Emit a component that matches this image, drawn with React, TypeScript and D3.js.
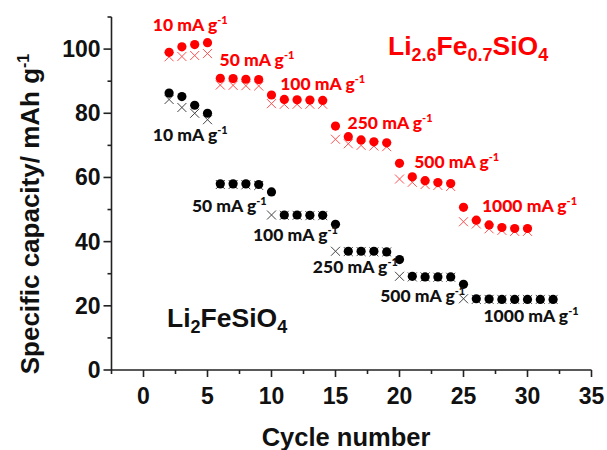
import React from "react";
import * as d3 from "d3";

// Li2FeSiO4 (black)
const baseCycles = [2, 3, 4, 5, 6, 7, 8, 9, 10, 11, 12, 13, 14, 15, 16, 17, 18, 19, 20, 21, 22, 23, 24, 25, 26, 27, 28, 29, 30, 31, 32];
const baseCircle = [86.3, 85.2, 82.5, 80, 58, 58, 58, 57.8, 55.5, 48.3, 48.3, 48.2, 48.2, 45.4, 37, 37, 37, 36.8, 34.4, 29.2, 29, 29, 29, 26.7, 22.2, 22.1, 22, 22, 22, 22, 22];
const baseCross = [84.3, 81.8, 80, 78, 57.8, 57.8, 57.7, 57.5, 48.3, 48.2, 48.2, 48.1, 48.1, 37, 36.9, 36.9, 36.8, 36.8, 29.2, 29, 29, 28.9, 28.9, 22.2, 22, 22, 22, 22, 22, 22, 22];

// Li2.6Fe0.7SiO4 (red)
const dopedCycles = [2, 3, 4, 5, 6, 7, 8, 9, 10, 11, 12, 13, 14, 15, 16, 17, 18, 19, 20, 21, 22, 23, 24, 25, 26, 27, 28, 29, 30];
const dopedCircle = [99, 100.7, 101.4, 102, 90.9, 90.8, 90.6, 90.5, 85.7, 84.3, 84.2, 84.1, 84, 76, 72.7, 71.7, 71.1, 70.8, 64.4, 60.2, 59, 58.4, 58.1, 50.7, 46.7, 45.2, 44.4, 44.1, 44.1];
const dopedCross = [97.6, 97.7, 98, 98.6, 88.8, 88.7, 88.6, 88.5, 83, 82.8, 82.8, 82.8, 82.8, 71.9, 70.5, 70, 69.8, 69.6, 59.5, 58.5, 57.8, 57.5, 57.2, 46.2, 45.5, 44, 43.5, 43.2, 43.2];

const rates = ["10", "50", "100", "250", "500", "1000"];
// label anchors in data units (cycle, capacity)
const dopedLabelAt: [number, number][] = [[0.73, 105.5], [5.94, 94.8], [10.68, 87.2], [15.94, 75.0], [21.15, 63.0], [26.44, 49.3]];
const baseLabelAt: [number, number][] = [[0.73, 71.3], [3.78, 49.1], [8.55, 40.3], [13.23, 30.1], [18.49, 21.3], [26.56, 14.9]];

const xTicks = [0, 5, 10, 15, 20, 25, 30, 35];
const yTicks = [0, 20, 40, 60, 80, 100];

const W = 607;
const H = 450;

const x = d3.scaleLinear().domain([-2.5, 35]).range([111.5, 591.5]);
const y = d3.scaleLinear().domain([0, 110]).range([370, 17]);

const RED = "#ff0000";
const axisFont = "'Liberation Sans', Arial, sans-serif";
const labelFont = "Lato, 'Open Sans', sans-serif";

const Cross = ({ cx, cy, color }: { cx: number; cy: number; color: string }) => {
  const s = 4.5;
  return (
    <path
      d={`M${cx - s},${cy - s}L${cx + s},${cy + s}M${cx - s},${cy + s}L${cx + s},${cy - s}`}
      stroke={color}
      strokeWidth={1}
      fill="none"
    />
  );
};

const RateLabel = ({ px, py, rate, color }: { px: number; py: number; rate: string; color: string }) => (
  <text x={px} y={py} fill={color} fontFamily={labelFont} fontWeight={900} fontSize={17.5}>
    {rate} mA g
    <tspan dy={-7} fontSize={11}>-1</tspan>
  </text>
);

export default function App() {
  const minorX = d3.range(-2.5, 35.01, 2.5).filter((v) => !xTicks.includes(v));
  const minorY = d3.range(10, 111, 20);

  return (
    <svg width={W} height={H} style={{ position: "absolute", left: 0, top: 0, background: "#fff" }}>
      {/* axes */}
      <g stroke="#222" strokeWidth={1.6} fill="none">
        <line x1={x(-2.5)} x2={x(-2.5)} y1={y(110)} y2={y(0)} />
        <line x1={x(-2.5)} x2={x(35)} y1={y(0)} y2={y(0)} />
        {yTicks.map((t) => (
          <line key={"yt" + t} x1={x(-2.5) - 8} x2={x(-2.5)} y1={y(t)} y2={y(t)} />
        ))}
        {minorY.map((t) => (
          <line key={"ym" + t} x1={x(-2.5) - 4} x2={x(-2.5)} y1={y(t)} y2={y(t)} />
        ))}
        {xTicks.map((t) => (
          <line key={"xt" + t} x1={x(t)} x2={x(t)} y1={y(0)} y2={y(0) + 7} />
        ))}
        {minorX.map((t) => (
          <line key={"xm" + t} x1={x(t)} x2={x(t)} y1={y(0)} y2={y(0) + 4} />
        ))}
      </g>
      <g fontFamily={axisFont} fontWeight={700} fontSize={23} fill="#111">
        {yTicks.map((t) => (
          <text key={"yl" + t} x={x(-2.5) - 11} y={y(t) + 8} textAnchor="end">
            {t}
          </text>
        ))}
        {xTicks.map((t) => (
          <text key={"xl" + t} x={x(t)} y={y(0) + 34} textAnchor="middle">
            {t}
          </text>
        ))}
        <text x={346} y={446} textAnchor="middle" fontSize={25.5}>
          Cycle number
        </text>
        <text transform="translate(39,214) rotate(-90)" textAnchor="middle" fontSize={26}>
          Specific capacity/ mAh g
          <tspan dy={-10} fontSize={16}>-1</tspan>
        </text>
      </g>

      {/* markers */}
      {baseCycles.map((c, i) => (
        <Cross key={"bx" + c} cx={x(c)} cy={y(baseCross[i])} color="#444" />
      ))}
      {dopedCycles.map((c, i) => (
        <Cross key={"rx" + c} cx={x(c)} cy={y(dopedCross[i])} color="#ff5050" />
      ))}
      {baseCycles.map((c, i) => (
        <circle key={"bc" + c} cx={x(c)} cy={y(baseCircle[i])} r={4.6} fill="#000" />
      ))}
      {dopedCycles.map((c, i) => (
        <circle key={"rc" + c} cx={x(c)} cy={y(dopedCircle[i])} r={4.6} fill={RED} />
      ))}

      {/* rate labels */}
      {rates.map((r, i) => (
        <RateLabel key={"dl" + r} px={x(dopedLabelAt[i][0])} py={y(dopedLabelAt[i][1])} rate={r} color={RED} />
      ))}
      {rates.map((r, i) => (
        <RateLabel key={"bl" + r} px={x(baseLabelAt[i][0])} py={y(baseLabelAt[i][1])} rate={r} color="#111" />
      ))}

      {/* compound names */}
      <text x={167} y={327} fontFamily={axisFont} fontWeight={700} fontSize={26.5} fill="#111">
        Li<tspan dy={6} fontSize={18}>2</tspan>
        <tspan dy={-6}>FeSiO</tspan>
        <tspan dy={6} fontSize={18}>4</tspan>
      </text>
      <text x={388} y={55} fontFamily={axisFont} fontWeight={700} fontSize={26.5} fill={RED}>
        Li<tspan dy={6} fontSize={18}>2.6</tspan>
        <tspan dy={-6}>Fe</tspan>
        <tspan dy={6} fontSize={18}>0.7</tspan>
        <tspan dy={-6}>SiO</tspan>
        <tspan dy={6} fontSize={18}>4</tspan>
      </text>
    </svg>
  );
}
